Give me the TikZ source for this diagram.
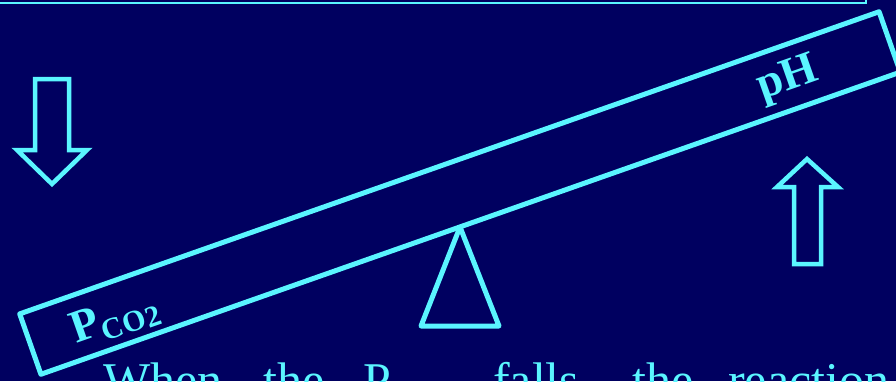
\documentclass[tikz,border=0pt]{standalone}
\usepackage{fontspec}
\setmainfont{Liberation Serif}
\definecolor{bg}{RGB}{0,0,96}
\definecolor{cy}{RGB}{90,245,255}
\begin{document}
\begin{tikzpicture}[x=1pt,y=-1pt,
  beam/.style={draw=cy, line width=5pt, line join=round},
  arrowline/.style={draw=cy, line width=4.5pt, line join=miter},
  lbl/.style={text=cy, inner sep=0pt, font=\bfseries\fontsize{46}{46}\selectfont},
  body/.style={text=cy, inner sep=0pt, anchor=base west, font=\fontsize{50}{50}\selectfont}]
\useasboundingbox (0,0) rectangle (896,381);
\clip (0,0) rectangle (896,381);
\fill[bg] (0,0) rectangle (896,381);
% top box edge
\draw[draw=cy, line width=2pt] (-5,-5) rectangle (866,2.5);
% seesaw bar
\node[beam, rotate=19.37, minimum width=911pt, minimum height=64pt, inner sep=0pt] (bar) at (460,193) {};
% fulcrum
\draw[beam] (460,227) -- (499,326) -- (421,326) -- cycle;
% labels on bar
\node[lbl, rotate=19.37] (ph) at (788,80) {pH};
\node[lbl, rotate=19.37] (pco) at (115,319) {P\raisebox{-8pt}{\fontsize{30}{30}\selectfont CO\raisebox{-2pt}{2}}};
% down arrow
\draw[arrowline] (35,79) -- (69,79) -- (69,150) -- (87,150) -- (52,184) -- (17,150) -- (35,150) -- cycle;
% up arrow
\draw[arrowline] (794,264) -- (821,264) -- (821,187) -- (838,187) -- (807,159) -- (777,187) -- (794,187) -- cycle;
% bottom text (cut off)
\node[body] (w1) at (103,397) {When};
\node[body] (w2) at (263,397) {the};
\node[body] (w3) at (363,397) {P};
\node[body] (w4) at (493,397) {falls,};
\node[body] (w5) at (632,397) {the};
\node[body] (w6) at (728,397) {reaction};
\end{tikzpicture}
\end{document}
